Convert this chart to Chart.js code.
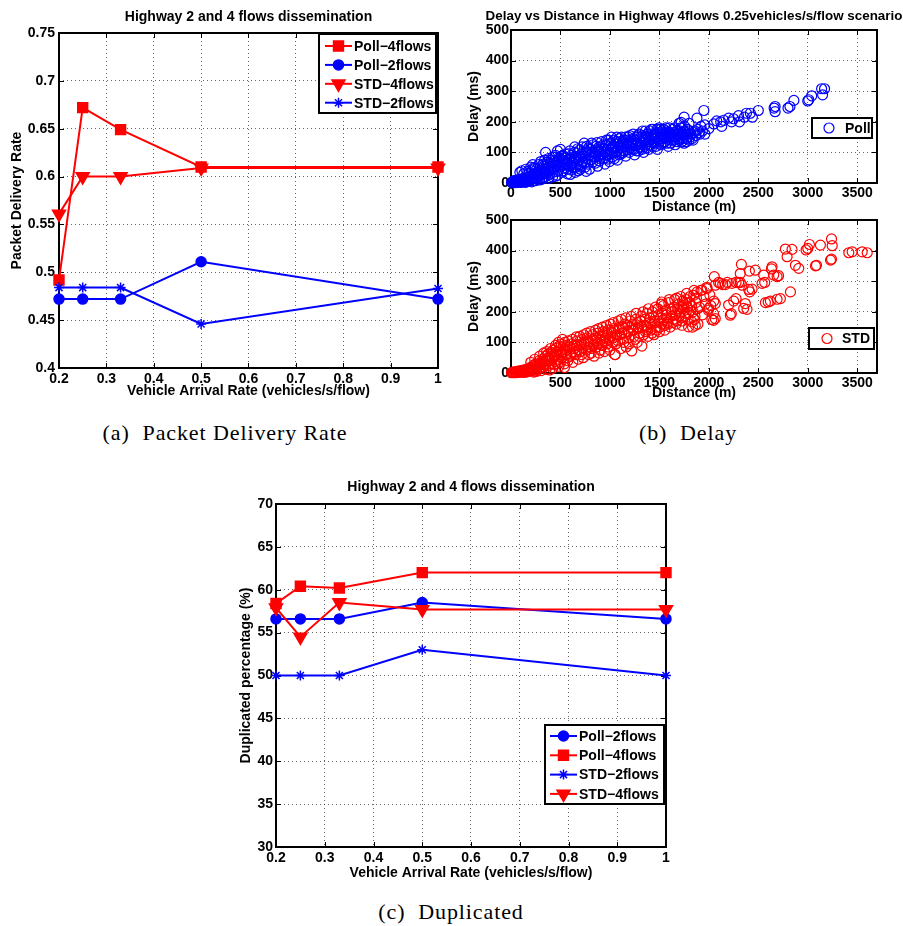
<!DOCTYPE html>
<html>
<head>
<meta charset="utf-8">
<script src="https://cdn.jsdelivr.net/npm/chart.js@4/dist/chart.umd.min.js"></script>
<style>
  body { margin: 0; background: #fff; width: 903px; height: 926px; position: relative; overflow: hidden; }
  canvas { position: absolute; }
  .cap { position: absolute; font-family: "Liberation Serif", "DejaVu Serif", serif; font-size: 22px; line-height: 24px;
         letter-spacing: 0.9px; white-space: nowrap; transform: translateX(-50%); color: #000; }
</style>
</head>
<body>
<canvas id="pdr" width="450" height="400" style="left:0;top:0"></canvas>
<canvas id="delayPoll" width="453" height="216" style="left:450px;top:0"></canvas>
<canvas id="delayStd" width="453" height="202" style="left:450px;top:200px"></canvas>
<canvas id="dup" width="470" height="412" style="left:220px;top:470px"></canvas>
<div class="cap" style="left:225px;top:421px">(a)&nbsp; Packet Delivery Rate</div>
<div class="cap" style="left:688px;top:421px">(b)&nbsp; Delay</div>
<div class="cap" style="left:451px;top:900px">(c)&nbsp; Duplicated</div>
<script>
// ---- data ----
const arrivalRate = [0.2, 0.25, 0.33, 0.5, 1];
const rateTicks = [0.2, 0.3, 0.4, 0.5, 0.6, 0.7, 0.8, 0.9, 1];

// (a) packet delivery rate
const pdrPoll4 = [0.492, 0.672, 0.649, 0.610, 0.610];
const pdrPoll2 = [0.472, 0.472, 0.472, 0.511, 0.472];
const pdrStd4  = [0.561, 0.600, 0.600, 0.609, 0.609];
const pdrStd2  = [0.484, 0.484, 0.484, 0.446, 0.483];
const pdrTicks = [0.4, 0.45, 0.5, 0.55, 0.6, 0.65, 0.7, 0.75];

// (c) duplicated percentage
const dupPoll2 = [56.6, 56.6, 56.6, 58.5, 56.6];
const dupPoll4 = [58.4, 60.4, 60.2, 62.0, 62.0];
const dupStd2  = [50.0, 50.0, 50.0, 53.0, 50.0];
const dupStd4  = [57.9, 54.5, 58.5, 57.7, 57.7];
const dupTicks = [30, 35, 40, 45, 50, 55, 60, 65, 70];

// (b) delay vs distance, [distance m, delay ms]
const pollPoints = [
  [5,2],[15,1],[25,3],[35,2],[45,4],[55,3],[65,5],[75,2],[85,6],[95,4],[105,7],[115,3],[125,8],[135,5],[145,2],
  [30,8],[60,10],[90,12],[120,15],[150,9],[160,18],[175,6],[190,12],[200,22],[210,4],[225,15],[240,28],[250,8],
  [90,35],[110,40],[130,30],[150,45],[170,38],[200,52],[220,60],[240,48],[180,30],[210,40],[230,50],[260,45],
  [280,60],[300,70],[330,55],[340,75],[380,80],[420,85],[450,90],[470,105],[230,8],[260,20],[290,10],[330,18],
  [360,30],[380,15],[420,20],[470,25],[530,40],[600,28],[650,35],[700,45],[760,38],
  [260,35],[270,18],[285,42],[300,25],[310,12],[320,48],[335,32],[345,20],[350,100],[360,58],[375,40],[390,28],
  [400,65],[410,50],[425,35],[440,72],[450,22],[460,55],[475,42],[490,80],[500,110],[505,60],[515,35],[525,90],
  [535,68],[545,48],[560,75],[570,30],[580,95],[590,55],[600,82],[610,42],[625,65],[640,100],[650,50],[660,78],
  [675,112],[680,40],[690,88],[700,60],[715,95],[725,70],[740,130],[750,52],[760,105],[770,80],[785,115],[795,45],
  [805,92],[815,130],[825,68],[840,100],[850,85],[860,120],[875,55],[885,105],[895,72],[905,95],[915,135],[930,80],
  [940,112],[950,62],[960,125],[975,90],[985,140],[995,70],[1005,108],[1015,150],[1025,85],[1035,120],[1050,100],
  [1060,135],[1075,75],[1085,115],[1095,145],[1110,95],[1120,128],[1135,105],[1145,140],[1160,88],[1170,118],
  [1185,150],[1195,100],[1210,130],[1225,110],[1240,145],[1250,92],[1265,125],[1280,155],[1290,105],[1305,138],
  [1315,118],[1330,170],[1340,100],[1355,150],[1365,125],[1380,160],[1395,110],[1405,140],[1420,175],[1430,120],
  [1445,155],[1455,130],[1470,165],[1480,110],[1495,180],[1505,145],[1515,125],[1530,170],[1540,150],[1555,135],
  [1565,180],[1580,155],[1590,120],[1605,165],[1620,140],[1635,175],[1650,150],[1660,125],[1675,160],[1690,145],
  [1700,195],[1710,170],[1725,135],[1735,180],[1745,155],[1760,160],[1770,145],[1785,175],
  [20,5],[40,1],[50,7],[70,3],[80,9],[100,2],[110,10],[130,6],[140,12],[155,4],[165,14],[185,20],[195,8],[215,25],
  [235,18],[255,30],[275,25],[295,38],[315,30],[325,62],[345,45],[355,35],[365,68],[385,52],[395,42],[405,75],
  [415,60],[430,48],[445,85],[455,65],[465,38],[480,70],[495,52],[510,88],[520,75],[530,58],[550,95],[555,82],
  [565,62],[575,45],[585,78],[595,105],[605,65],[615,90],[630,50],[635,75],[645,118],[655,85],[665,60],[670,98],
  [685,72],[695,108],[705,85],[710,55],[720,118],[730,88],[745,65],[755,98],[765,120],[775,62],[790,90],[800,110],
  [810,75],[820,102],[830,125],[845,88],[855,65],[865,108],[870,132],[880,90],[890,118],[900,80],[910,110],[920,95],
  [935,125],[945,100],[955,82],[965,140],[970,110],[980,78],[990,128],[1000,95],[1010,130],[1020,115],[1030,98],
  [1040,140],[1045,80],[1055,118],[1065,102],[1070,150],[1080,128],[1090,92],[1100,135],[1105,115],[1115,150],
  [1125,98],[1130,135],[1140,120],[1150,105],[1155,150],[1165,130],[1175,108],[1180,140],[1190,125],[1200,155],
  [1205,115],[1215,140],[1230,125],[1235,160],[1245,110],[1255,140],[1260,132],[1270,105],[1275,150],[1285,128],
  [1295,160],[1300,115],[1310,150],[1320,135],[1325,110],[1335,155],[1345,140],[1350,120],[1360,170],[1370,140],
  [1375,115],[1385,150],[1390,135],[1400,170],[1410,125],[1415,155],[1425,145],[1435,175],[1440,135],[1450,160],
  [1460,145],[1465,120],[1475,175],[1485,150],[1490,130],[1500,165],[1510,175],[1520,145],[1525,160],[1535,130],
  [1545,175],[1550,160],[1560,145],[1570,170],[1575,130],[1585,165],[1595,150],[1600,180],[1610,160],[1615,130],
  [1625,155],[1640,165],[1645,140],[1655,180],[1665,150],[1680,170],[1685,135],[1695,160],[1705,150],[1715,180],
  [1730,160],[1740,145],[1755,185],[1765,165],[1775,135],[1790,160],[1800,170],[1810,150],[1820,160],[1830,145],
  [1860,170],[1870,155],[1890,175],[1910,160],[1935,170],
  [1700,140],[1750,130],[1800,140],[1840,140],[1780,150],[1750,170],[1720,198],[1750,215],[1800,195],[1850,165],
  [1900,165],[1960,160],[1920,185],[1960,190],[1880,212],[1950,237],[2000,178],[2050,193],[2080,203],[2130,185],
  [2120,200],[2150,205],[2230,200],[2310,200],[2200,212],[2250,210],[2300,220],[2360,215],[2440,215],[2380,228],
  [2420,228],[2500,237],[2670,233],[2660,245],[2670,250],[2800,245],[2820,250],[2860,270],[3000,268],[3010,272],
  [3040,285],[3150,288],[3140,308],[3170,308]
];
const stdPoints = [
  [5,1],[15,2],[25,1],[35,3],[45,2],[55,4],[65,2],[75,5],[85,3],[95,6],[105,4],[115,7],[125,3],[135,8],[145,5],
  [155,10],[165,4],[175,12],[185,6],[195,15],[205,8],[215,18],[230,10],[245,22],[255,5],[265,28],[280,14],[295,32],
  [305,8],[315,38],[330,20],[345,42],[355,12],[370,48],[380,25],[395,55],[410,30],[420,15],[435,60],[445,38],
  [460,68],[475,45],[485,22],[500,72],[515,50],[525,85],[540,30],[550,62],[565,90],[575,40],[590,75],[600,55],
  [200,35],[240,45],[290,55],[330,65],[360,70],[400,80],[450,90],[480,100],[520,110],[560,60],[230,3],[260,12],
  [300,18],[350,25],[390,10],[440,28],[500,35],[540,18],
  [615,95],[625,35],[640,80],[655,60],[665,105],[680,45],[690,88],[705,70],[720,110],[730,50],[745,95],[760,75],
  [770,115],[785,60],[800,100],[815,80],[825,125],[840,55],[850,105],[865,85],[880,130],[890,65],[905,110],[920,90],
  [930,135],[945,70],[960,115],[970,95],[985,140],[1000,75],[1010,120],[1025,100],[1040,145],[1050,60],[1065,125],
  [1080,105],[1095,150],[1110,80],[1120,130],[1135,110],[1150,160],[1165,85],[1180,135],[1190,115],[1205,170],
  [1220,72],[1235,140],[1245,120],[1260,175],[1275,100],[1290,150],[1300,130],[1315,185],[1323,88],[1345,155],
  [1360,135],[1375,195],[1385,120],[1400,165],[1415,140],[1430,200],[1445,125],[1455,170],[1470,150],[1485,210],
  [1500,135],[1510,180],[1525,160],[1540,220],[1555,140],[1570,190],[1580,165],[1595,230],[1610,150],[1625,200],
  [1640,175],[1655,240],[1670,160],[1685,210],[1700,185],[1715,250],[1730,170],[1745,220],[1760,195],[1775,260],
  [1790,175],[1805,230],[1820,205],[1835,150],[1850,270],[1860,185],[1875,245],[1890,160],[1905,215],[1920,270],
  [1935,190],[1950,250],[1965,225],[1980,280],[1995,205],[2010,255],[2030,175],[2050,235],
  [20,3],[40,4],[50,1],[70,6],[80,2],[100,8],[110,3],[130,10],[140,2],[160,13],[170,6],[190,18],[210,12],[225,25],
  [235,6],[250,30],[270,20],[285,40],[300,28],[320,45],[335,30],[350,55],[365,40],[375,62],[390,45],[405,68],
  [415,50],[430,75],[440,55],[455,82],[465,60],[470,30],[490,88],[505,62],[510,95],[530,70],[545,100],[555,75],
  [570,50],[580,105],[595,85],[605,62],[620,110],[630,88],[645,68],[660,118],[670,92],[685,75],[695,120],[710,95],
  [715,60],[735,125],[740,100],[755,80],[765,130],[780,105],[795,85],[805,135],[810,65],[830,110],[835,90],[855,140],
  [860,115],[870,95],[885,145],[895,120],[900,75],[915,100],[925,150],[935,125],[950,105],[965,155],[975,130],
  [980,85],[995,110],[1005,160],[1015,135],[1030,115],[1035,165],[1045,140],[1060,95],[1070,120],[1085,170],
  [1090,145],[1100,125],[1115,175],[1125,150],[1140,100],[1145,130],[1160,180],[1170,155],[1185,135],[1195,95],
  [1210,150],[1215,185],[1230,160],[1240,140],[1255,110],[1265,195],[1280,165],[1285,145],[1295,120],[1310,170],
  [1320,150],[1335,200],[1340,125],[1355,175],[1365,155],[1380,140],[1390,210],[1405,180],[1410,160],[1425,130],
  [1440,185],[1450,165],[1460,215],[1475,140],[1490,190],[1495,170],[1505,150],[1520,225],[1530,195],[1545,175],
  [1550,155],[1565,205],[1575,180],[1590,160],[1600,240],[1615,210],[1620,185],[1635,165],[1650,215],[1660,190],
  [1675,245],[1680,170],[1695,225],[1710,200],[1720,180],[1735,235],[1740,210],[1755,185],[1770,240],[1780,215],
  [1795,195],[1810,250],[1825,220],[1840,200],[1855,175],[1870,230],[1885,210],
  [1525,232],[1728,216],[1768,230],[1694,205],[1846,254],[1829,167],[1863,156],[1728,156],[1795,151],[1053,60],
  [1881,265],[1930,271],[1981,276],[2055,315],[2065,287],[2099,296],[2140,289],[2187,296],[2234,293],[2275,296],
  [2318,296],[2335,287],[2116,293],[2167,289],[2301,296],[2318,325],[2329,355],[2410,333],[2470,336],[2413,265],
  [2403,273],[2437,274],[2369,227],[2352,211],[2386,208],[2275,243],[2251,235],[2200,222],[2217,189],[2227,194],
  [2065,227],[2048,194],[2048,172],[2065,178],[1998,211],[2020,220],
  [2538,293],[2565,296],[2555,320],[2639,347],[2633,340],[2656,320],[2690,315],[2705,318],[2572,230],[2622,235],
  [2600,232],[2690,241],[2723,243],[2825,265],[2774,405],[2791,380],[2841,404],[2875,352],[2909,342],[2983,402],
  [3000,407],[3017,420],[3078,350],[3088,352],[3128,418],[3240,438],[3247,416],[3230,369],[3240,372],[3415,393],
  [3449,396],[3550,396],[3601,393]
];
const delayTicks = [0, 100, 200, 300, 400, 500];
const distTicks = [0, 500, 1000, 1500, 2000, 2500, 3000, 3500];

// ---- helpers ----
const FONT = '"Liberation Sans", Arial, Helvetica, sans-serif';
const RED = '#ff0000', BLUE = '#0000ff';
Chart.defaults.font.family = FONT;
Chart.defaults.color = '#000';

const matlabFrame = {
  id: 'matlabFrame',
  beforeDatasetsDraw(chart) {
    const {ctx, chartArea: a, scales: {x, y}} = chart;
    ctx.save();
    ctx.strokeStyle = '#000';
    ctx.lineWidth = 1;
    ctx.beginPath();
    x.ticks.forEach(t => {
      const p = Math.round(x.getPixelForValue(t.value)) + 0.5;
      ctx.moveTo(p, a.bottom); ctx.lineTo(p, a.bottom - 5);
      ctx.moveTo(p, a.top); ctx.lineTo(p, a.top + 5);
    });
    y.ticks.forEach(t => {
      const p = Math.round(y.getPixelForValue(t.value)) + 0.5;
      ctx.moveTo(a.left, p); ctx.lineTo(a.left + 5, p);
      ctx.moveTo(a.right, p); ctx.lineTo(a.right - 5, p);
    });
    ctx.stroke();
    ctx.lineWidth = 2;
    ctx.strokeRect(a.left, a.top, a.right - a.left, a.bottom - a.top);
    ctx.restore();
  },
  afterDraw(chart, args, o) {
    const {ctx, chartArea: a} = chart;
    ctx.save();
    ctx.fillStyle = '#000';
    ctx.font = 'bold ' + (o.titleSize || 14) + 'px ' + FONT;
    ctx.textAlign = 'center';
    ctx.textBaseline = 'middle';
    ctx.fillText(o.title, (a.left + a.right) / 2, o.titleY);

    const lg = o.legend;
    ctx.font = 'bold 14px ' + FONT;
    ctx.fillStyle = '#fff';
    ctx.fillRect(lg.left, lg.top, lg.width, lg.height);
    ctx.strokeStyle = '#000';
    ctx.lineWidth = 2;
    ctx.strokeRect(lg.left, lg.top, lg.width, lg.height);
    lg.items.forEach((idx, k) => {
      const ds = chart.data.datasets[idx];
      const yy = lg.rowY + k * lg.rowGap;
      if (lg.lineFrom != null) {
        ctx.strokeStyle = ds.borderColor;
        ctx.lineWidth = ds.borderWidth;
        ctx.beginPath();
        ctx.moveTo(lg.lineFrom, yy);
        ctx.lineTo(lg.lineTo, yy);
        ctx.stroke();
      }
      ctx.fillStyle = ds.pointBackgroundColor;
      ctx.strokeStyle = ds.pointBorderColor;
      ctx.lineWidth = ds.pointBorderWidth;
      Chart.helpers.drawPoint(ctx, {
        pointStyle: ds.pointStyle, radius: ds.pointRadius,
        rotation: ds.pointRotation || 0, borderWidth: ds.pointBorderWidth
      }, lg.markerX, yy);
      ctx.fillStyle = '#000';
      ctx.textAlign = 'left';
      ctx.fillText(ds.label, lg.textX, yy + 1);
    });
    ctx.restore();
  }
};

function axis(o) {
  const horiz = o.horizontal;
  return {
    type: 'linear',
    min: o.min, max: o.max,
    afterBuildTicks: s => { s.ticks = o.ticks.map(v => ({value: v})); },
    afterFit: s => { if (horiz) s.height = o.size; else s.width = o.size; },
    ticks: {
      autoSkip: false, maxRotation: 0, padding: o.tickPad, color: '#000',
      font: {size: 14, weight: 'bold'},
      callback: v => String(+v.toFixed(2))
    },
    grid: {color: 'rgba(0,0,0,0.6)', lineWidth: 1, drawTicks: false},
    border: {display: false, dash: [1, 3]},
    title: {
      display: true, text: o.title, color: '#000',
      font: {size: 14, weight: 'bold'},
      padding: horiz ? {top: 0, bottom: o.titlePad} : {top: o.titlePad, bottom: 0}
    }
  };
}

function series(label, ys, color, style, radius, rotation) {
  return {
    label,
    data: arrivalRate.map((x, i) => ({x, y: ys[i]})),
    borderColor: color,
    backgroundColor: color,
    borderWidth: 2,
    pointStyle: style,
    pointRadius: radius,
    pointRotation: rotation || 0,
    pointBackgroundColor: color,
    pointBorderColor: color,
    pointBorderWidth: 1.5,
    tension: 0,
    clip: false
  };
}

function cloud(label, pts, color) {
  return {
    label,
    data: pts.map(([x, y]) => ({x, y})),
    pointStyle: 'circle',
    pointRadius: 5,
    pointBorderWidth: 1.2,
    pointBackgroundColor: 'rgba(0,0,0,0)',
    pointBorderColor: color,
    borderColor: color,
    clip: false
  };
}

const common = {
  responsive: false,
  animation: false,
  devicePixelRatio: 1,
  events: []
};

// (a)
const pdrSets = [
  series('Poll\u22124flows', pdrPoll4, RED, 'rect', 7),
  series('Poll\u22122flows', pdrPoll2, BLUE, 'circle', 5),
  series('STD\u22124flows', pdrStd4, RED, 'triangle', 7.5, 180),
  series('STD\u22122flows', pdrStd2, BLUE, 'star', 5)
];
pdrSets.forEach((d, i) => { d.order = pdrSets.length - i; });
new Chart(document.getElementById('pdr'), {
  type: 'line',
  data: {datasets: pdrSets},
  options: {
    ...common,
    layout: {padding: {left: 0, right: 12, top: 33, bottom: 0}},
    scales: {
      x: axis({horizontal: true, min: 0.2, max: 1, ticks: rateTicks, size: 32, tickPad: 3, titlePad: 0,
               title: 'Vehicle Arrival Rate (vehicles/s/flow)'}),
      y: axis({horizontal: false, min: 0.4, max: 0.75, ticks: pdrTicks, size: 59, tickPad: 4, titlePad: 9,
               title: 'Packet Delivery Rate'})
    },
    plugins: {
      legend: {display: false},
      tooltip: {enabled: false},
      matlabFrame: {
        title: 'Highway 2 and 4 flows dissemination', titleY: 17,
        legend: {left: 319, top: 34, width: 117, height: 79, rowY: 46, rowGap: 18.9,
                 lineFrom: 325, lineTo: 352, markerX: 338.5, textX: 354, items: [0, 1, 2, 3]}
      }
    }
  },
  plugins: [matlabFrame]
});

// (b) top and bottom
function delayChart(id, label, pts, color, xTicks, xSize, top, lg, titleText) {
  return new Chart(document.getElementById(id), {
    type: 'scatter',
    data: {datasets: [cloud(label, pts, color)]},
    options: {
      ...common,
      layout: {padding: {left: 0, right: 26, top: top, bottom: 0}},
      scales: {
        x: axis({horizontal: true, min: 0, max: 3700, ticks: xTicks, size: xSize, tickPad: 2, titlePad: 0,
                 title: 'Distance (m)'}),
        y: axis({horizontal: false, min: 0, max: 500, ticks: delayTicks, size: 61, tickPad: 2, titlePad: 16,
                 title: 'Delay (ms)'})
      },
      plugins: {
        legend: {display: false},
        tooltip: {enabled: false},
        matlabFrame: {title: titleText, titleY: 16, titleSize: 13.4, legend: lg}
      }
    },
    plugins: [matlabFrame]
  });
}
delayChart('delayPoll', 'Poll', pollPoints, BLUE, distTicks, 33, 30,
  {left: 362, top: 118, width: 60, height: 20, rowY: 128, rowGap: 0, lineFrom: null, markerX: 379, textX: 395, items: [0]},
  'Delay vs Distance in Highway 4flows 0.25vehicles/s/flow scenario');
delayChart('delayStd', 'STD', stdPoints, RED, distTicks.slice(1), 29, 20,
  {left: 359, top: 128, width: 65, height: 21, rowY: 138.5, rowGap: 0, lineFrom: null, markerX: 377, textX: 392, items: [0]},
  '');

// (c)
const dupSets = [
  series('Poll\u22122flows', dupPoll2, BLUE, 'circle', 5),
  series('Poll\u22124flows', dupPoll4, RED, 'rect', 7),
  series('STD\u22122flows', dupStd2, BLUE, 'star', 5),
  series('STD\u22124flows', dupStd4, RED, 'triangle', 7.5, 180)
];
dupSets.forEach((d, i) => { d.order = dupSets.length - i; });
new Chart(document.getElementById('dup'), {
  type: 'line',
  data: {datasets: dupSets},
  options: {
    ...common,
    layout: {padding: {left: 0, right: 24, top: 34, bottom: 0}},
    scales: {
      x: axis({horizontal: true, min: 0.2, max: 1, ticks: rateTicks, size: 35, tickPad: 3, titlePad: 0,
               title: 'Vehicle Arrival Rate (vehicles/s/flow)'}),
      y: axis({horizontal: false, min: 30, max: 70, ticks: dupTicks, size: 56, tickPad: 3, titlePad: 18,
               title: 'Duplicated percentage (%)'})
    },
    plugins: {
      legend: {display: false},
      tooltip: {enabled: false},
      matlabFrame: {
        title: 'Highway 2 and 4 flows dissemination', titleY: 17,
        legend: {left: 325, top: 255, width: 119, height: 79, rowY: 266, rowGap: 19.3,
                 lineFrom: 330, lineTo: 357, markerX: 343.5, textX: 359, items: [0, 1, 2, 3]}
      }
    }
  },
  plugins: [matlabFrame]
});
</script>
</body>
</html>
